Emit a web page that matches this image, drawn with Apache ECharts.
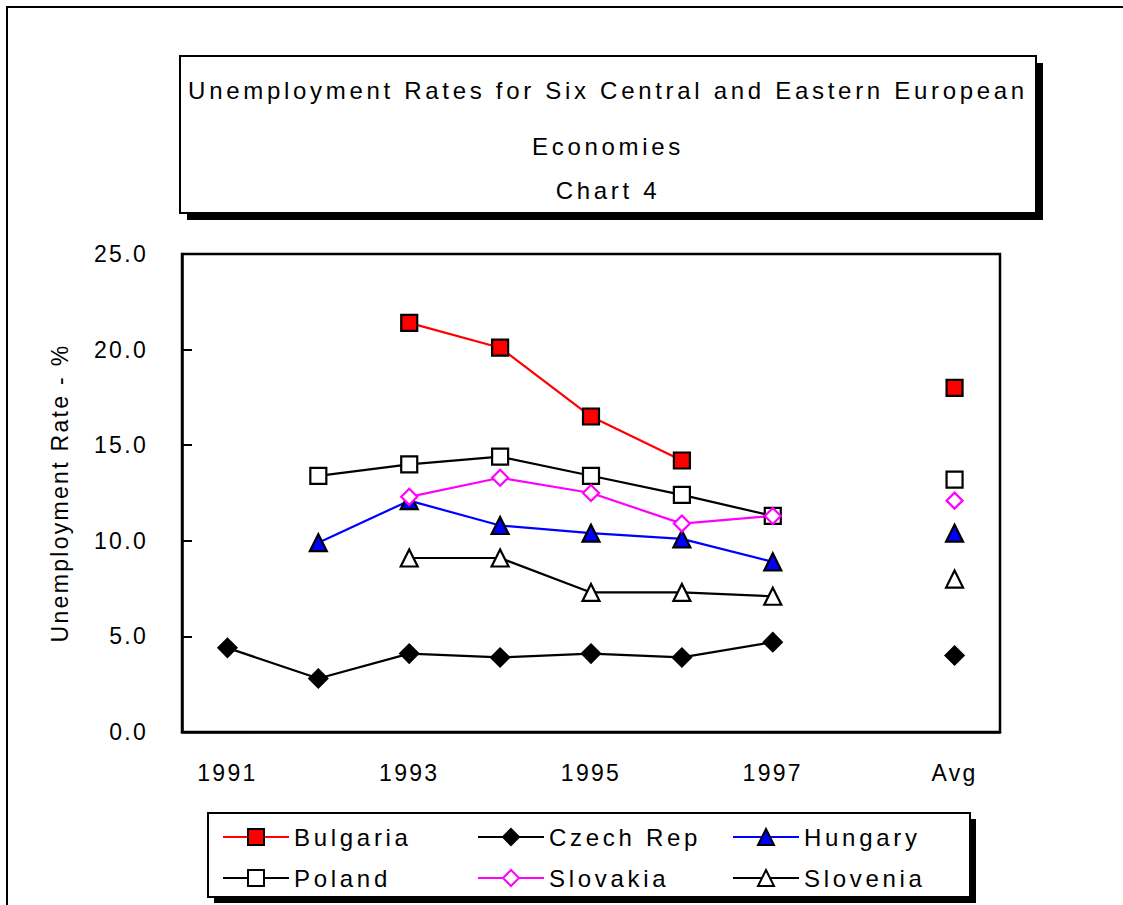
<!DOCTYPE html>
<html>
<head>
<meta charset="utf-8">
<script src="https://cdn.jsdelivr.net/npm/echarts@6/dist/echarts.min.js"></script>
<style>
  html, body { margin: 0; padding: 0; background: #fff; }
  #chart { width: 1123px; height: 905px; }
  /* widened letter spacing, as in the printed report */
  #chart text { letter-spacing: 2.3px; }
  #chart text[style*="24px"] { letter-spacing: 3.7px; }
</style>
</head>
<body>
<div id="chart"></div>
<script>
// Unemployment rate (%) by year, plus the period average
const categories = ['1991', '1992', '1993', '1994', '1995', '1996', '1997', '', 'Avg'];
const bulgaria = [null, null, 21.4, 20.1, 16.5, 14.2, null, null, 18.0];
const czechRep = [4.4, 2.8, 4.1, 3.9, 4.1, 3.9, 4.7, null, 4.0];
const hungary  = [null, 9.9, 12.1, 10.8, 10.4, 10.1, 8.9, null, 10.4];
const poland   = [null, 13.4, 14.0, 14.4, 13.4, 12.4, 11.3, null, 13.2];
const slovakia = [null, null, 12.3, 13.3, 12.5, 10.9, 11.3, null, 12.1];
const slovenia = [null, null, 9.1, 9.1, 7.3, 7.3, 7.1, null, 8.0];
const yTicks = [0, 5, 10, 15, 20, 25];
const titleLines = ['Unemployment Rates for Six Central and Eastern European', 'Economies', 'Chart 4'];

const FONT = '"Liberation Sans", Arial, sans-serif';

function lineSeries(name, data, lineColor, symbol, size, fill, border) {
  return {
    name: name,
    type: 'line',
    data: data,
    symbol: symbol,
    symbolSize: size,
    showSymbol: true,
    showAllSymbol: true,
    connectNulls: false,
    lineStyle: { color: lineColor, width: 2.2 },
    itemStyle: { color: fill, borderColor: border, borderWidth: 2.2 },
    emphasis: { disabled: true },
    animation: false
  };
}

const chart = echarts.init(document.getElementById('chart'), null, { renderer: 'svg' });

const legendCommon = {
  orient: 'vertical',
  top: 825,
  padding: 0,
  itemWidth: 66,
  itemHeight: 20,
  itemGap: 17,
  selectedMode: false,
  textStyle: { fontSize: 24, color: '#000', fontFamily: FONT }
};

function titleText(i, y) {
  return { type: 'text', z: 3, x: 608, y: y,
    style: { text: titleLines[i], fill: '#000', font: '24px ' + FONT, textAlign: 'center', textVerticalAlign: 'middle' } };
}

chart.setOption({
  backgroundColor: '#fff',
  textStyle: { fontFamily: FONT },
  graphic: [
    // outer frame
    { type: 'rect', z: 0, shape: { x: 7, y: 7, width: 1300, height: 1100 },
      style: { fill: 'none', stroke: '#000', lineWidth: 2 } },
    // title box with drop shadow
    { type: 'rect', z: 1, shape: { x: 187, y: 63, width: 856, height: 157 }, style: { fill: '#000' } },
    { type: 'rect', z: 2, shape: { x: 180, y: 56, width: 856, height: 157 },
      style: { fill: '#fff', stroke: '#000', lineWidth: 2 } },
    titleText(0, 90),
    titleText(1, 146),
    titleText(2, 190),
    // legend box with drop shadow
    { type: 'rect', z: 1, shape: { x: 214, y: 819, width: 762, height: 84 }, style: { fill: '#000' } },
    { type: 'rect', z: 2, shape: { x: 208, y: 813, width: 762, height: 84 },
      style: { fill: '#fff', stroke: '#000', lineWidth: 2 } }
  ],
  legend: [
    Object.assign({ left: 222, data: ['Bulgaria', 'Poland'] }, legendCommon),
    Object.assign({ left: 477, data: ['Czech Rep', 'Slovakia'] }, legendCommon),
    Object.assign({ left: 732, data: ['Hungary', 'Slovenia'] }, legendCommon)
  ],
  grid: {
    left: 182, top: 254, right: 123, bottom: 173,
    show: true, borderColor: '#000', borderWidth: 2.5, backgroundColor: '#fff'
  },
  xAxis: [
    {
      type: 'category',
      data: categories,
      boundaryGap: true,
      axisLine: { lineStyle: { color: '#000', width: 2.5 } },
      axisTick: { inside: true, length: 7, alignWithLabel: true, interval: 0, lineStyle: { color: '#000', width: 2 } },
      axisLabel: {
        interval: function (i) { return i % 2 === 0; },
        margin: 29, fontSize: 23, color: '#000', fontFamily: FONT
      },
      splitLine: { show: false }
    },
    {
      type: 'category',
      data: categories,
      boundaryGap: true,
      position: 'bottom',
      axisLine: { show: false },
      axisTick: { inside: true, length: 7, interval: 0, lineStyle: { color: '#000', width: 2 } },
      axisLabel: { show: false },
      splitLine: { show: false }
    }
  ],
  yAxis: {
    type: 'value',
    min: yTicks[0],
    max: yTicks[yTicks.length - 1],
    interval: 5,
    name: 'Unemployment Rate - %',
    nameLocation: 'middle',
    nameRotate: 90,
    nameGap: 111,
    nameTextStyle: { fontSize: 23, color: '#000', fontFamily: FONT },
    axisLine: { show: true, lineStyle: { color: '#000', width: 2.5 } },
    axisTick: { show: true, inside: true, length: 10, lineStyle: { color: '#000', width: 2 } },
    axisLabel: {
      margin: 34, fontSize: 23, color: '#000', fontFamily: FONT,
      formatter: function (v) { return v.toFixed(1); }
    },
    splitLine: { show: false }
  },
  series: [
    lineSeries('Bulgaria', bulgaria, '#ff0000', 'rect', 16, '#ff0000', '#000'),
    lineSeries('Czech Rep', czechRep, '#000', 'diamond', 18, '#000', '#000'),
    lineSeries('Hungary', hungary, '#0000ff', 'triangle', 17, '#0000ff', '#000'),
    lineSeries('Poland', poland, '#000', 'rect', 16, '#fff', '#000'),
    lineSeries('Slovakia', slovakia, '#ff00ff', 'diamond', 16, '#fff', '#ff00ff'),
    lineSeries('Slovenia', slovenia, '#000', 'triangle', 17, '#fff', '#000')
  ]
});
</script>
</body>
</html>
